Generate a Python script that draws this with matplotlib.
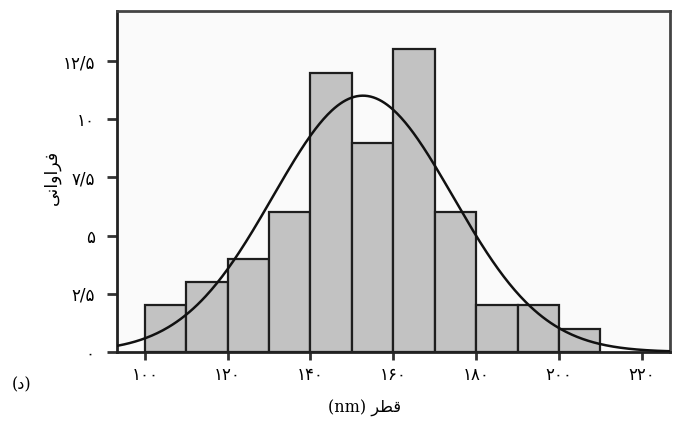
import numpy as np
import matplotlib
matplotlib.use("Agg")
import matplotlib.pyplot as plt

# data
bin_edges = [100, 110, 120, 130, 140, 150, 160, 170, 180, 190, 200, 210]
counts = [2, 3, 4, 6, 12, 9, 13, 6, 2, 2, 1]
xticks = [100, 120, 140, 160, 180, 200, 220]
xtick_labels = ["۱۰۰", "۱۲۰", "۱۴۰", "۱۶۰", "۱۸۰", "۲۰۰", "۲۲۰"]
yticks = [0, 2.5, 5, 7.5, 10, 12.5]
ytick_labels = ["۰", "۲/۵", "۵", "۷/۵", "۱۰", "۱۲/۵"]

# Persian text pre-shaped into visual order (matplotlib has no bidi shaping)
ylabel_txt = "\uFBFD\uFEE7\uFE8D\uFEED\uFE8D\uFEAE\uFED3"   # فراوانی
xlabel_txt = "(nm) \uFEAE\uFEC4\uFED7"                      # قطر (nm)
panel_txt = "(د)"

plt.rcParams['font.family'] = ['DejaVu Sans']

fig = plt.figure(figsize=(6.8, 4.23), dpi=100)
ax = fig.add_axes([117/680, 1 - 352/423, (670 - 117)/680, (352 - 11)/423])
ax.set_facecolor("#fafafa")

edges = np.array(bin_edges, dtype=float)
cnt = np.array(counts, dtype=float)
ax.bar(edges[:-1], cnt, width=np.diff(edges), align="edge",
       color="#c2c2c2", edgecolor="#1e1e1e", linewidth=1.6, zorder=2)

# fitted normal curve from the histogram
mids = (edges[:-1] + edges[1:]) / 2
n = cnt.sum()
mu = (cnt * mids).sum() / n
sd = np.sqrt((cnt * (mids - mu) ** 2).sum() / (n - 1))
bw = edges[1] - edges[0]
xs = np.linspace(93.3, 226.8, 400)
ys = n * bw / (sd * np.sqrt(2 * np.pi)) * np.exp(-0.5 * ((xs - mu) / sd) ** 2)
ax.plot(xs, ys, color="#111111", linewidth=1.8, zorder=3)

ax.set_xlim(93.3, 226.8)
ax.set_ylim(0, 14.65)
ax.set_xticks(xticks)
ax.set_xticklabels(xtick_labels, fontsize=12)
ax.set_yticks(yticks)
ax.set_yticklabels(ytick_labels, fontsize=12)
ax.tick_params(axis="both", direction="out", width=2, color="#333333")
ax.tick_params(axis="y", length=7, pad=9)
ax.tick_params(axis="x", length=6, pad=4)
for s in ax.spines.values():
    s.set_linewidth(2)
    s.set_color("#444444")
ax.spines["left"].set_color("#222222")
ax.spines["bottom"].set_color("#222222")

fig.text(52/680, 1 - 177/423, ylabel_txt, rotation=90, ha="center", va="center", fontsize=12.5)
fig.text(365/680, 1 - 408/423, xlabel_txt, ha="center", va="center", fontsize=11.5,
         family=["DejaVu Serif", "DejaVu Sans"])
fig.text(22/680, 1 - 385/423, panel_txt, ha="center", va="center", fontsize=11.5,
         family=["DejaVu Serif", "DejaVu Sans"])

fig.savefig("out.png", dpi=100, facecolor="white")
